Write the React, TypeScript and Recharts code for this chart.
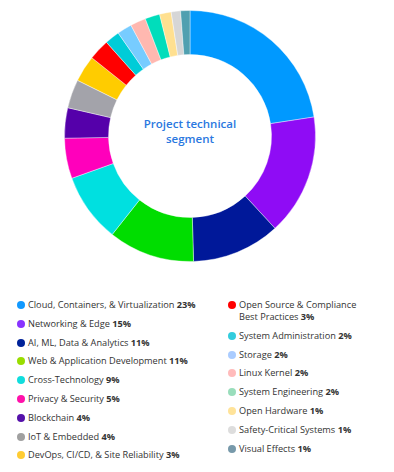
import { Cell, Pie, PieChart } from "recharts";

const segments = [
    "Cloud, Containers, & Virtualization",
    "Networking & Edge",
    "AI, ML, Data & Analytics",
    "Web & Application Development",
    "Cross-Technology",
    "Privacy & Security",
    "Blockchain",
    "IoT & Embedded",
    "DevOps, CI/CD, & Site Reliability",
    "Open Source & Compliance Best Practices",
    "System Administration",
    "Storage",
    "Linux Kernel",
    "System Engineering",
    "Open Hardware",
    "Safety-Critical Systems",
    "Visual Effects",
];

// share of projects
const shares = [22.6, 15.6, 11.4, 11.1, 8.9, 5.2, 3.9, 3.7, 3.4, 2.7, 1.9, 1.9, 2.0, 1.9, 1.5, 1.2, 1.2];

// rounded labels printed in the legend
const shareLabels = ["23%", "15%", "11%", "11%", "9%", "5%", "4%", "4%", "3%", "3%", "2%", "2%", "2%", "2%", "1%", "1%", "1%"];

const sliceColors = [
    "#0099ff", "#8f0cf5", "#001899", "#00dd00", "#00e0e0", "#ff00bb", "#5500aa", "#a3a3aa", "#ffcc00",
    "#ff0000", "#00ccd8", "#77ccff", "#ffb8b0", "#00ddbb", "#ffe090", "#d6d6d6", "#50a0b0",
];

const legendColors = [
    "#1199ff", "#8833ff", "#002299", "#99dd00", "#11dddd", "#ff11aa", "#5511aa", "#a0a0a0", "#ffcc33",
    "#ff0000", "#33ccdd", "#aaccff", "#ffbbbb", "#99ddbb", "#ffe399", "#dddddd", "#7799aa",
];

const chartData = segments.map((name, i) => ({ name, value: shares[i] }));

function LegendItem({ index }: { index: number }) {
    return (
        <div style={{ display: "flex", alignItems: "flex-start", marginBottom: 6.8 }}>
            <span
                style={{
                    flex: "0 0 auto",
                    width: 8,
                    height: 8,
                    borderRadius: "50%",
                    background: legendColors[index],
                    marginTop: 2,
                    marginRight: 3,
                }}
            />
            <span>
                {segments[index]} <b>{shareLabels[index]}</b>
            </span>
        </div>
    );
}

export default function App() {
    const font = "'Open Sans', sans-serif";
    return (
        <div style={{ position: "absolute", left: 0, top: 0, width: 394, height: 472, background: "#fff", fontFamily: font }}>
            <PieChart width={394} height={280} margin={{ top: 0, right: 0, bottom: 0, left: 0 }}>
                <Pie
                    data={chartData}
                    dataKey="value"
                    nameKey="name"
                    cx={190}
                    cy={136}
                    innerRadius={81.5}
                    outerRadius={125.5}
                    startAngle={90}
                    endAngle={-270}
                    stroke="#ffffff"
                    strokeWidth={0.4}
                    isAnimationActive={false}
                >
                    {chartData.map((d, i) => (
                        <Cell key={d.name} fill={sliceColors[i]} />
                    ))}
                </Pie>
            </PieChart>
            <div
                style={{
                    position: "absolute",
                    left: 110,
                    top: 116,
                    width: 160,
                    textAlign: "center",
                    color: "#2a78e0",
                    fontSize: 11.5,
                    fontWeight: 600,
                    lineHeight: "15px",
                }}
            >
                Project technical
                <br />
                segment
            </div>
            <div style={{ position: "absolute", left: 17, top: 299, width: 210, fontSize: 9.2, lineHeight: "12px", color: "#333" }}>
                {segments.slice(0, 9).map((_, i) => (
                    <LegendItem key={i} index={i} />
                ))}
            </div>
            <div style={{ position: "absolute", left: 228, top: 299, width: 134, fontSize: 9.2, lineHeight: "12px", color: "#333" }}>
                {segments.slice(9).map((_, i) => (
                    <LegendItem key={i + 9} index={i + 9} />
                ))}
            </div>
        </div>
    );
}
